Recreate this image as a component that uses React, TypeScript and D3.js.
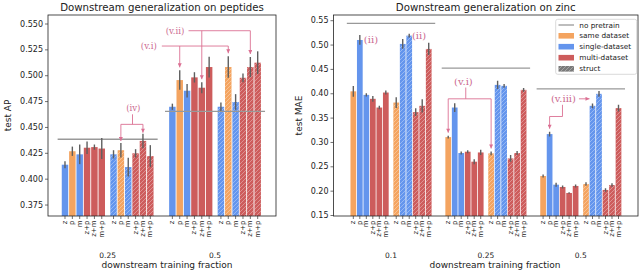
import React from "react";
import * as d3 from "d3";

// ---------------- data ----------------
const combos = ["z", "p", "m", "z+p", "z+m", "m+p"];
const pepFractions = ["0.25", "0.5"];
const zincFractions = ["0.1", "0.25", "0.5"];
const legendLabels = ["no pretrain", "same dataset", "single-dataset", "multi-dataset", "struct"];

const pepKinds = ["single", "same", "single", "multi", "multi", "multi"];
const zincKinds = ["same", "single", "single", "multi", "multi", "multi"];

// peptides (test AP)
const pep025 = [0.414, 0.427, 0.424, 0.4304, 0.431, 0.4296];
const pep025Err = [0.0034, 0.0045, 0.0095, 0.006, 0.0025, 0.0102];
const pep025Struct = [0.424, 0.428, 0.4117, 0.425, 0.437, 0.4223];
const pep025StructErr = [0.004, 0.007, 0.009, 0.004, 0.007, 0.0106];
const pep05 = [0.47, 0.4958, 0.4855, 0.4984, 0.4884, 0.5084];
const pep05Err = [0.003, 0.0094, 0.0065, 0.005, 0.0053, 0.01];
const pep05Struct = [0.47, 0.5084, 0.4746, 0.498, 0.5084, 0.5126];
const pep05StructErr = [0.004, 0.0104, 0.0076, 0.0042, 0.0097, 0.011];
const pepNoPretrain = [0.4386, 0.4656];

// zinc (test MAE)
const zinc01 = [0.405, 0.5104, 0.3977, 0.3896, 0.3717, 0.4025];
const zinc01Err = [0.011, 0.01, 0.0035, 0.006, 0.0035, 0.004];
const zinc01Struct = [0.382, 0.5023, 0.5193, 0.3622, 0.3752, 0.492];
const zinc01StructErr = [0.011, 0.01, 0.004, 0.008, 0.0137, 0.0126];
const zinc025 = [0.311, 0.3717, 0.2783, 0.281, 0.2605, 0.2795];
const zinc025Err = [0.003, 0.009, 0.003, 0.003, 0.005, 0.0055];
const zinc025Struct = [0.2775, 0.4182, 0.4162, 0.2672, 0.2783, 0.408];
const zinc025StructErr = [0.004, 0.0085, 0.004, 0.007, 0.004, 0.004];
const zinc05 = [0.2311, 0.3172, 0.2133, 0.2086, 0.1963, 0.2107];
const zinc05Err = [0.003, 0.005, 0.004, 0.003, 0.0015, 0.003];
const zinc05Struct = [0.2147, 0.3752, 0.3998, 0.2025, 0.2127, 0.3705];
const zinc05StructErr = [0.0035, 0.005, 0.006, 0.0037, 0.0035, 0.007];
const zincNoPretrain = [0.5446, 0.4525, 0.41];

const pepTicks = [0.375, 0.4, 0.425, 0.45, 0.475, 0.5, 0.525, 0.55];
const zincTicks = [0.15, 0.2, 0.25, 0.3, 0.35, 0.4, 0.45, 0.5, 0.55];

// ---------------- style ----------------
const COLORS: Record<string, string> = { same: "#F4A460", single: "#6495ED", multi: "#CD5C5C" };
const ANN = "#DB7093";
const ANN_TEXT = "#CC6A90";
const FONT = "DejaVu Sans";
const GROUP = 14.6;
const SUB = 6.6;
const barPos = (g: number, s: number, i: number) => g * GROUP + s * SUB + i;

type PanelProps = {
  id: string;
  title: string;
  ylabel: string;
  ylabelX: number;
  left: number;
  right: number;
  top: number;
  bottom: number;
  xDom: [number, number];
  yDom: [number, number];
  yTicks: number[];
  yFmt: (v: number) => string;
  fractions: string[];
  kinds: string[];
  values: number[][][];
  errs: number[][][];
  noPretrain: number[];
  xlabelX: number;
  annotate: (
    x: d3.ScaleLinear<number, number>,
    y: d3.ScaleLinear<number, number>,
    topOf: (g: number, s: number, i: number) => number
  ) => React.ReactNode;
};

function Panel(p: PanelProps) {
  const x = d3.scaleLinear().domain(p.xDom).range([p.left, p.right]);
  const y = d3.scaleLinear().domain(p.yDom).range([p.bottom, p.top]);
  const u = x(1) - x(0);
  const bw = u * 0.88;
  const topOf = (g: number, s: number, i: number) => y(p.values[g][s][i] + p.errs[g][s][i]);
  const clipId = `clip-${p.id}`;
  const bars: React.ReactNode[] = [];
  const errs: React.ReactNode[] = [];
  const ticks: React.ReactNode[] = [];
  p.fractions.forEach((_, g) => {
    [0, 1].forEach((s) => {
      combos.forEach((c, i) => {
        const cx = x(barPos(g, s, i));
        const v = p.values[g][s][i];
        const e = p.errs[g][s][i];
        const key = `${g}-${s}-${i}`;
        bars.push(
          <rect key={`b${key}`} x={cx - bw / 2} y={y(v)} width={bw} height={p.bottom - y(v)} fill={COLORS[p.kinds[i]]} />
        );
        if (s === 1) {
          bars.push(
            <rect key={`h${key}`} x={cx - bw / 2} y={y(v)} width={bw} height={p.bottom - y(v)} fill="url(#hatch)" />
          );
        }
        errs.push(
          <line key={`e${key}`} x1={cx} x2={cx} y1={y(v - e)} y2={y(v + e)} stroke="#5f5f5f" strokeWidth={1.4} />
        );
        ticks.push(
          <g key={`t${key}`}>
            <line x1={cx} x2={cx} y1={p.bottom} y2={p.bottom + 3} stroke="#333" strokeWidth={0.7} />
            <text
              transform={`translate(${cx},${p.bottom + 4.5}) rotate(-90)`}
              textAnchor="end"
              dominantBaseline="central"
              fontSize={7}
              fontFamily={FONT}
              fill="#222"
            >
              {c}
            </text>
          </g>
        );
      });
    });
  });
  return (
    <g>
      <defs>
        <clipPath id={clipId}>
          <rect x={p.left} y={p.top} width={p.right - p.left} height={p.bottom - p.top} />
        </clipPath>
      </defs>
      <g clipPath={`url(#${clipId})`}>
        {bars}
        {p.noPretrain.map((v, g) => (
          <line
            key={`np${g}`}
            x1={x(barPos(g, 0, 0) - 1)}
            x2={x(barPos(g, 1, 5) + 1)}
            y1={y(v)}
            y2={y(v)}
            stroke="#999"
            strokeWidth={1.3}
          />
        ))}
        {errs}
      </g>
      {p.annotate(x, y, topOf)}
      <rect x={p.left} y={p.top} width={p.right - p.left} height={p.bottom - p.top} fill="none" stroke="#222" strokeWidth={0.8} />
      {p.yTicks.map((t) => (
        <g key={`yt${t}`}>
          <line x1={p.left - 3} x2={p.left} y1={y(t)} y2={y(t)} stroke="#333" strokeWidth={0.7} />
          <text x={p.left - 5} y={y(t)} textAnchor="end" dominantBaseline="central" fontSize={8} fontFamily={FONT} fill="#222">
            {p.yFmt(t)}
          </text>
        </g>
      ))}
      {ticks}
      {p.fractions.map((f, g) => (
        <text
          key={`gl${g}`}
          x={x((barPos(g, 0, 0) + barPos(g, 1, 5)) / 2)}
          y={258}
          textAnchor="middle"
          fontSize={7.5}
          fontFamily={FONT}
          fill="#222"
        >
          {f}
        </text>
      ))}
      <text x={p.xlabelX} y={267.5} textAnchor="middle" fontSize={9} fontFamily={FONT} fill="#222">
        downstream training fraction
      </text>
      <text
        transform={`translate(${p.ylabelX},${(p.top + p.bottom) / 2}) rotate(-90)`}
        textAnchor="middle"
        dominantBaseline="central"
        fontSize={9}
        fontFamily={FONT}
        fill="#222"
      >
        {p.ylabel}
      </text>
      <text x={(p.left + p.right) / 2} y={10.5} textAnchor="middle" fontSize={10.2} fontFamily={FONT} fill="#222">
        {p.title}
      </text>
    </g>
  );
}

const annLine = { stroke: ANN, strokeWidth: 0.9, fill: "none" };

function pepAnnotate(x: d3.ScaleLinear<number, number>, y: d3.ScaleLinear<number, number>, topOf: (g: number, s: number, i: number) => number) {
  const fs = 8.6;
  // (iv)
  const ivX = x(9.29), ivY = y(0.4685), ivBar = y(0.453), ivV = x(9.18);
  const a1 = x(barPos(0, 1, 1)), a2 = x(barPos(0, 1, 4));
  // (v.i)
  const v1X = x(11.4), v1Y = y(0.5287);
  const b1 = x(barPos(1, 0, 1)), b2 = x(barPos(1, 1, 1));
  // (v.ii)
  const v2X = x(14.96), v2Y = y(0.5435);
  const c1 = x(barPos(1, 0, 4)), c2 = x(barPos(1, 1, 4));
  return (
    <g>
      <text x={ivX} y={ivY} textAnchor="middle" dominantBaseline="central" fontSize={fs} fontFamily="DejaVu Serif" fill={ANN_TEXT}>(iv)</text>
      <path d={`M${ivV},${ivY + 6}V${ivBar}`} {...annLine} />
      <path d={`M${a1},${ivBar}H${a2}`} {...annLine} />
      <path d={`M${a1},${ivBar}V${topOf(0, 1, 1) - 2}`} {...annLine} markerEnd="url(#arrow)" />
      <path d={`M${a2},${ivBar}V${topOf(0, 1, 4) - 1}`} {...annLine} markerEnd="url(#arrow)" />

      <text x={v1X} y={v1Y} textAnchor="middle" dominantBaseline="central" fontSize={fs} fontFamily="DejaVu Serif" fill={ANN_TEXT}>(v.i)</text>
      <path d={`M${v1X + 13},${v1Y}H${b2}`} {...annLine} />
      <path d={`M${b1},${v1Y}V${topOf(1, 0, 1) - 3}`} {...annLine} markerEnd="url(#arrow)" />
      <path d={`M${b2},${v1Y}V${topOf(1, 1, 1) - 3}`} {...annLine} markerEnd="url(#arrow)" />

      <text x={v2X} y={v2Y} textAnchor="middle" dominantBaseline="central" fontSize={fs} fontFamily="DejaVu Serif" fill={ANN_TEXT}>(v.ii)</text>
      <path d={`M${v2X + 13.5},${v2Y}H${c2}`} {...annLine} />
      <path d={`M${c1},${v2Y}V${topOf(1, 0, 4) - 3}`} {...annLine} markerEnd="url(#arrow)" />
      <path d={`M${c2},${v2Y}V${topOf(1, 1, 4) - 3}`} {...annLine} markerEnd="url(#arrow)" />
    </g>
  );
}

function zincAnnotate(x: d3.ScaleLinear<number, number>, y: d3.ScaleLinear<number, number>, topOf: (g: number, s: number, i: number) => number) {
  const fs = 10;
  // (ii)
  const ii1X = x(barPos(0, 0, 1) + 0.62), ii1Y = y(zinc01[1]);
  const ii2X = x(barPos(0, 1, 2) + 0.42), ii2Y = y(zinc01Struct[2]);
  // (v.i)
  const v1X = x(16.94), v1Y = y(0.425), v1V = x(17.3), v1Bar = y(0.3896);
  const a1 = x(barPos(1, 0, 0)), a2 = x(barPos(1, 1, 0));
  // (v.iii)
  const v3X = x(32.33), v3Y = y(0.3896), v3V = x(32.18), v3Bar = y(0.3533);
  const b1 = x(barPos(2, 0, 1)), b2 = x(barPos(2, 1, 1));
  return (
    <g>
      <text x={ii1X} y={ii1Y} dominantBaseline="central" fontSize={fs} fontFamily="DejaVu Serif" fill={ANN_TEXT}>(ii)</text>
      <text x={ii2X} y={ii2Y} dominantBaseline="central" fontSize={fs} fontFamily="DejaVu Serif" fill={ANN_TEXT}>(ii)</text>

      <text x={v1X} y={v1Y} textAnchor="middle" dominantBaseline="central" fontSize={fs} fontFamily="DejaVu Serif" fill={ANN_TEXT}>(v.i)</text>
      <path d={`M${v1V},${v1Y + 6}V${v1Bar}`} {...annLine} />
      <path d={`M${a1},${v1Bar}H${a2}`} {...annLine} />
      <path d={`M${a1},${v1Bar}V${topOf(1, 0, 0) - 3}`} {...annLine} markerEnd="url(#arrow)" />
      <path d={`M${a2},${v1Bar}V${topOf(1, 1, 0) - 3}`} {...annLine} markerEnd="url(#arrow)" />

      <text x={v3X} y={v3Y} textAnchor="middle" dominantBaseline="central" fontSize={fs} fontFamily="DejaVu Serif" fill={ANN_TEXT}>(v.iii)</text>
      <path d={`M${v3X + 15.5},${v3Y}H${b2 - 3}`} {...annLine} markerEnd="url(#arrow)" />
      <path d={`M${v3V},${v3Y + 6}V${v3Bar}H${b1}V${topOf(2, 0, 1) - 3}`} {...annLine} markerEnd="url(#arrow)" />
    </g>
  );
}

function Legend() {
  const x0 = 555.7, y0 = 19.3, w = 81, h = 55;
  const rows = [25, 35.8, 46.7, 57.7, 68.8];
  const hx = 558.5, hw = 15.5, tx = 579.3;
  const fills = [null, COLORS.same, COLORS.single, COLORS.multi, "#7a7a7a"];
  return (
    <g>
      <rect x={x0} y={y0} width={w} height={h} rx={2} fill="white" fillOpacity={0.85} stroke="#d0d0d0" strokeWidth={0.8} />
      {legendLabels.map((lab, k) => (
        <g key={lab}>
          {k === 0 ? (
            <line x1={hx} x2={hx + hw} y1={rows[k]} y2={rows[k]} stroke="#999" strokeWidth={1.3} />
          ) : (
            <g>
              <rect x={hx} y={rows[k] - 2.8} width={hw} height={5.6} fill={fills[k] as string} />
              {k === 4 && <rect x={hx} y={rows[k] - 2.8} width={hw} height={5.6} fill="url(#hatch)" />}
            </g>
          )}
          <text x={tx} y={rows[k]} dominantBaseline="central" fontSize={7.3} fontFamily={FONT} fill="#222">
            {lab}
          </text>
        </g>
      ))}
    </g>
  );
}

export default function App() {
  const pepValues = [
    [pep025, pep025Struct],
    [pep05, pep05Struct],
  ];
  const pepErrs = [
    [pep025Err, pep025StructErr],
    [pep05Err, pep05StructErr],
  ];
  const zincValues = [
    [zinc01, zinc01Struct],
    [zinc025, zinc025Struct],
    [zinc05, zinc05Struct],
  ];
  const zincErrs = [
    [zinc01Err, zinc01StructErr],
    [zinc025Err, zinc025StructErr],
    [zinc05Err, zinc05StructErr],
  ];
  return (
    <svg
      width={640}
      height={272}
      viewBox="0 0 640 272"
      style={{ position: "absolute", left: 0, top: 0, background: "white" }}
    >
      <defs>
        <pattern id="hatch" patternUnits="userSpaceOnUse" width={4} height={4}>
          <path d="M-1,1 l2,-2 M0,4 l4,-4 M3,5 l2,-2" stroke="white" strokeWidth={0.6} strokeOpacity={0.55} />
        </pattern>
        <marker id="arrow" viewBox="0 0 10 10" refX={10} refY={5} markerUnits="userSpaceOnUse" markerWidth={4.5} markerHeight={4} orient="auto">
          <path d="M0,0 L10,5 L0,10 z" fill={ANN} />
        </marker>
      </defs>
      <rect x={0} y={0} width={640} height={272} fill="white" />
      <Panel
        id="pep"
        title="Downstream generalization on peptides"
        ylabel="test AP"
        ylabelX={7.5}
        left={48}
        right={276}
        top={15}
        bottom={216}
        xDom={[-2.31, 28.69]}
        yDom={[0.3644, 0.5587]}
        yTicks={pepTicks}
        yFmt={d3.format(".3f")}
        fractions={pepFractions}
        kinds={pepKinds}
        values={pepValues}
        errs={pepErrs}
        noPretrain={pepNoPretrain}
        xlabelX={167}
        annotate={pepAnnotate}
      />
      <Panel
        id="zinc"
        title="Downstream generalization on zinc"
        ylabel="test MAE"
        ylabelX={298.5}
        left={333.5}
        right={638}
        top={15}
        bottom={216}
        xDom={[-3.05, 43.8]}
        yDom={[0.149, 0.5617]}
        yTicks={zincTicks}
        yFmt={d3.format(".2f")}
        fractions={zincFractions}
        kinds={zincKinds}
        values={zincValues}
        errs={zincErrs}
        noPretrain={zincNoPretrain}
        xlabelX={495}
        annotate={zincAnnotate}
      />
      <Legend />
    </svg>
  );
}
